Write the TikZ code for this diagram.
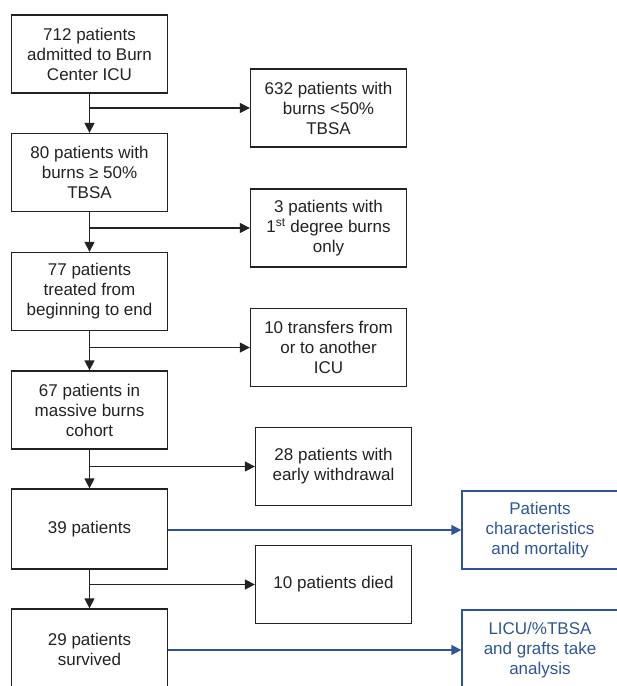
\documentclass[tikz,border=0pt]{standalone}
\usepackage{fontspec}
\setmainfont{Liberation Sans}
\usetikzlibrary{arrows.meta}

\definecolor{boxline}{RGB}{34,34,34}
\definecolor{studyblue}{RGB}{47,85,151}

\tikzset{
    box/.style={draw=boxline, text=boxline, line width=1.3pt, minimum width=156pt, minimum height=78pt,
        align=center, inner sep=0pt, font=\fontsize{17}{20}\selectfont},
    bluebox/.style={box, draw=studyblue, text=studyblue},
    arr/.style={-{Triangle[length=10pt,width=10pt]}, line width=1.4pt, draw=boxline, fill=boxline},
    bluearr/.style={arr, draw=studyblue, fill=studyblue}
}

\begin{document}
\begin{tikzpicture}[x=1pt, y=-1pt]

    % Page frame
    \clip (0,0) rectangle (617,686);

    % Main column of boxes
    \node[box] (admitted) at (89.5,54) {712 patients\\admitted to Burn\\Center ICU};
    \node[box] (massive) at (89.5,172.5) {80 patients with\\burns ≥ 50\%\\TBSA};
    \node[box] (treated) at (89.5,291.5) {77 patients\\treated from\\beginning to end};
    \node[box] (cohort) at (89.5,410) {67 patients in\\massive burns\\cohort};
    \node[box, minimum height=80pt] (patients) at (89.5,529) {39 patients};
    \node[box, minimum height=81pt] (survived) at (89.5,649.5) {29 patients\\survived};

    % Excluded patients
    \node[box] (lowtbsa) at (328.5,108) {632 patients with\\burns <50\%\\TBSA};
    \node[box] (firstdeg) at (328.5,228) {3 patients with\\1\textsuperscript{st} degree burns\\only};
    \node[box] (transfers) at (328.5,347.5) {10 transfers from\\or to another\\ICU};
    \node[box] (withdrawal) at (333.5,466.5) {28 patients with\\early withdrawal};
    \node[box] (died) at (333.5,584.5) {10 patients died};

    % Analyses
    \node[bluebox] (mortality) at (540,530) {Patients\\characteristics\\and mortality};
    \node[bluebox, minimum height=80pt] (licu) at (540,650) {LICU/\%TBSA\\and grafts take\\analysis};

    % Flow down the main column
    \draw[arr] (admitted) -- (massive);
    \draw[arr] (massive) -- (treated);
    \draw[arr] (treated) -- (cohort);
    \draw[arr] (cohort) -- (patients);
    \draw[arr] (patients) -- (survived);

    % Branches to the right
    \draw[arr] (admitted.south |- lowtbsa.west) -- (lowtbsa.west);
    \draw[arr] (massive.south |- firstdeg.west) -- (firstdeg.west);
    \draw[arr] (treated.south |- transfers.west) -- (transfers.west);
    \draw[arr] (cohort.south |- withdrawal.west) -- (withdrawal.west);
    \draw[arr] (patients.south |- died.west) -- (died.west);

    % Analysis arrows
    \draw[bluearr] (patients.east |- mortality.west) -- (mortality.west);
    \draw[bluearr] (survived.east |- licu.west) -- (licu.west);

\end{tikzpicture}
\end{document}
